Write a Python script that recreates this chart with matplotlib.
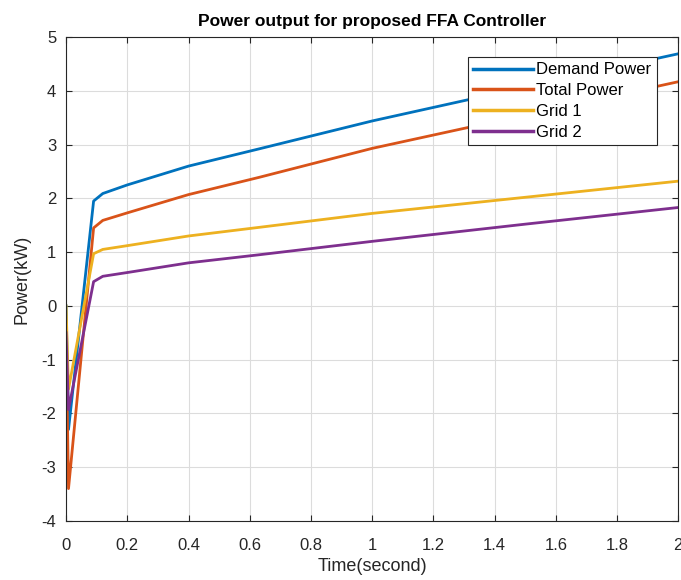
import numpy as np
import matplotlib.pyplot as plt

plt.rcParams['font.family'] = ['Liberation Sans', 'DejaVu Sans']
plt.rcParams['axes.unicode_minus'] = False

# Time points (s)
t = [0.0, 0.008, 0.09, 0.12, 0.2, 0.4, 0.63, 1.0, 1.5, 2.0]

demand = [0.0, -2.3, 1.95, 2.09, 2.25, 2.60, 2.92, 3.44, 4.07, 4.69]
total = [-0.5, -3.4, 1.45, 1.59, 1.73, 2.07, 2.39, 2.93, 3.55, 4.17]
grid1 = [0.0, -1.55, 0.97, 1.05, 1.12, 1.30, 1.46, 1.72, 2.02, 2.32]
grid2 = [-0.5, -1.93, 0.45, 0.55, 0.62, 0.80, 0.95, 1.20, 1.52, 1.83]

labels = ['Demand Power', 'Total Power', 'Grid 1', 'Grid 2']
colors = ['#0072BD', '#D95319', '#EDB120', '#7E2F8E']

fig = plt.figure(figsize=(6.81, 5.8), dpi=100)
ax = fig.add_axes([0.097, 0.102, 0.899, 0.834])

for series, lab, col in zip([demand, total, grid1, grid2], labels, colors):
    ax.plot(t, series, color=col, linewidth=2, label=lab)

ax.set_xlim(0, 2)
ax.set_ylim(-4, 5)
ax.set_xticks(np.arange(0, 2.01, 0.2))
ax.set_xticklabels(['0', '0.2', '0.4', '0.6', '0.8', '1', '1.2', '1.4',
                    '1.6', '1.8', '2'])
ax.set_yticks(range(-4, 6))
ax.tick_params(direction='in', top=True, right=True, labelsize=12,
               length=4, colors='#262626')
ax.tick_params(axis='x', pad=12)
ax.tick_params(axis='y', pad=7)
ax.grid(True, color='#dcdcdc', linewidth=0.8)
for s in ax.spines.values():
    s.set_color('#262626')
    s.set_linewidth(0.8)

ax.set_xlabel('Time(second)', fontsize=13, color='#262626', labelpad=4)
ax.set_ylabel('Power(kW)', fontsize=13, color='#262626', labelpad=8)
ax.set_title('Power output for proposed FFA Controller', fontsize=12.5,
             fontweight='bold', pad=8)

leg = ax.legend(loc='upper right', bbox_to_anchor=(0.97, 0.965),
                fontsize=12, fancybox=False, framealpha=1,
                edgecolor='#262626', borderpad=0.3, labelspacing=0.35,
                handlelength=3.6, handletextpad=0.2, borderaxespad=0.2)
leg.get_frame().set_linewidth(0.8)
for line in leg.get_lines():
    line.set_linewidth(2.5)

fig.savefig('out.png', dpi=100)
